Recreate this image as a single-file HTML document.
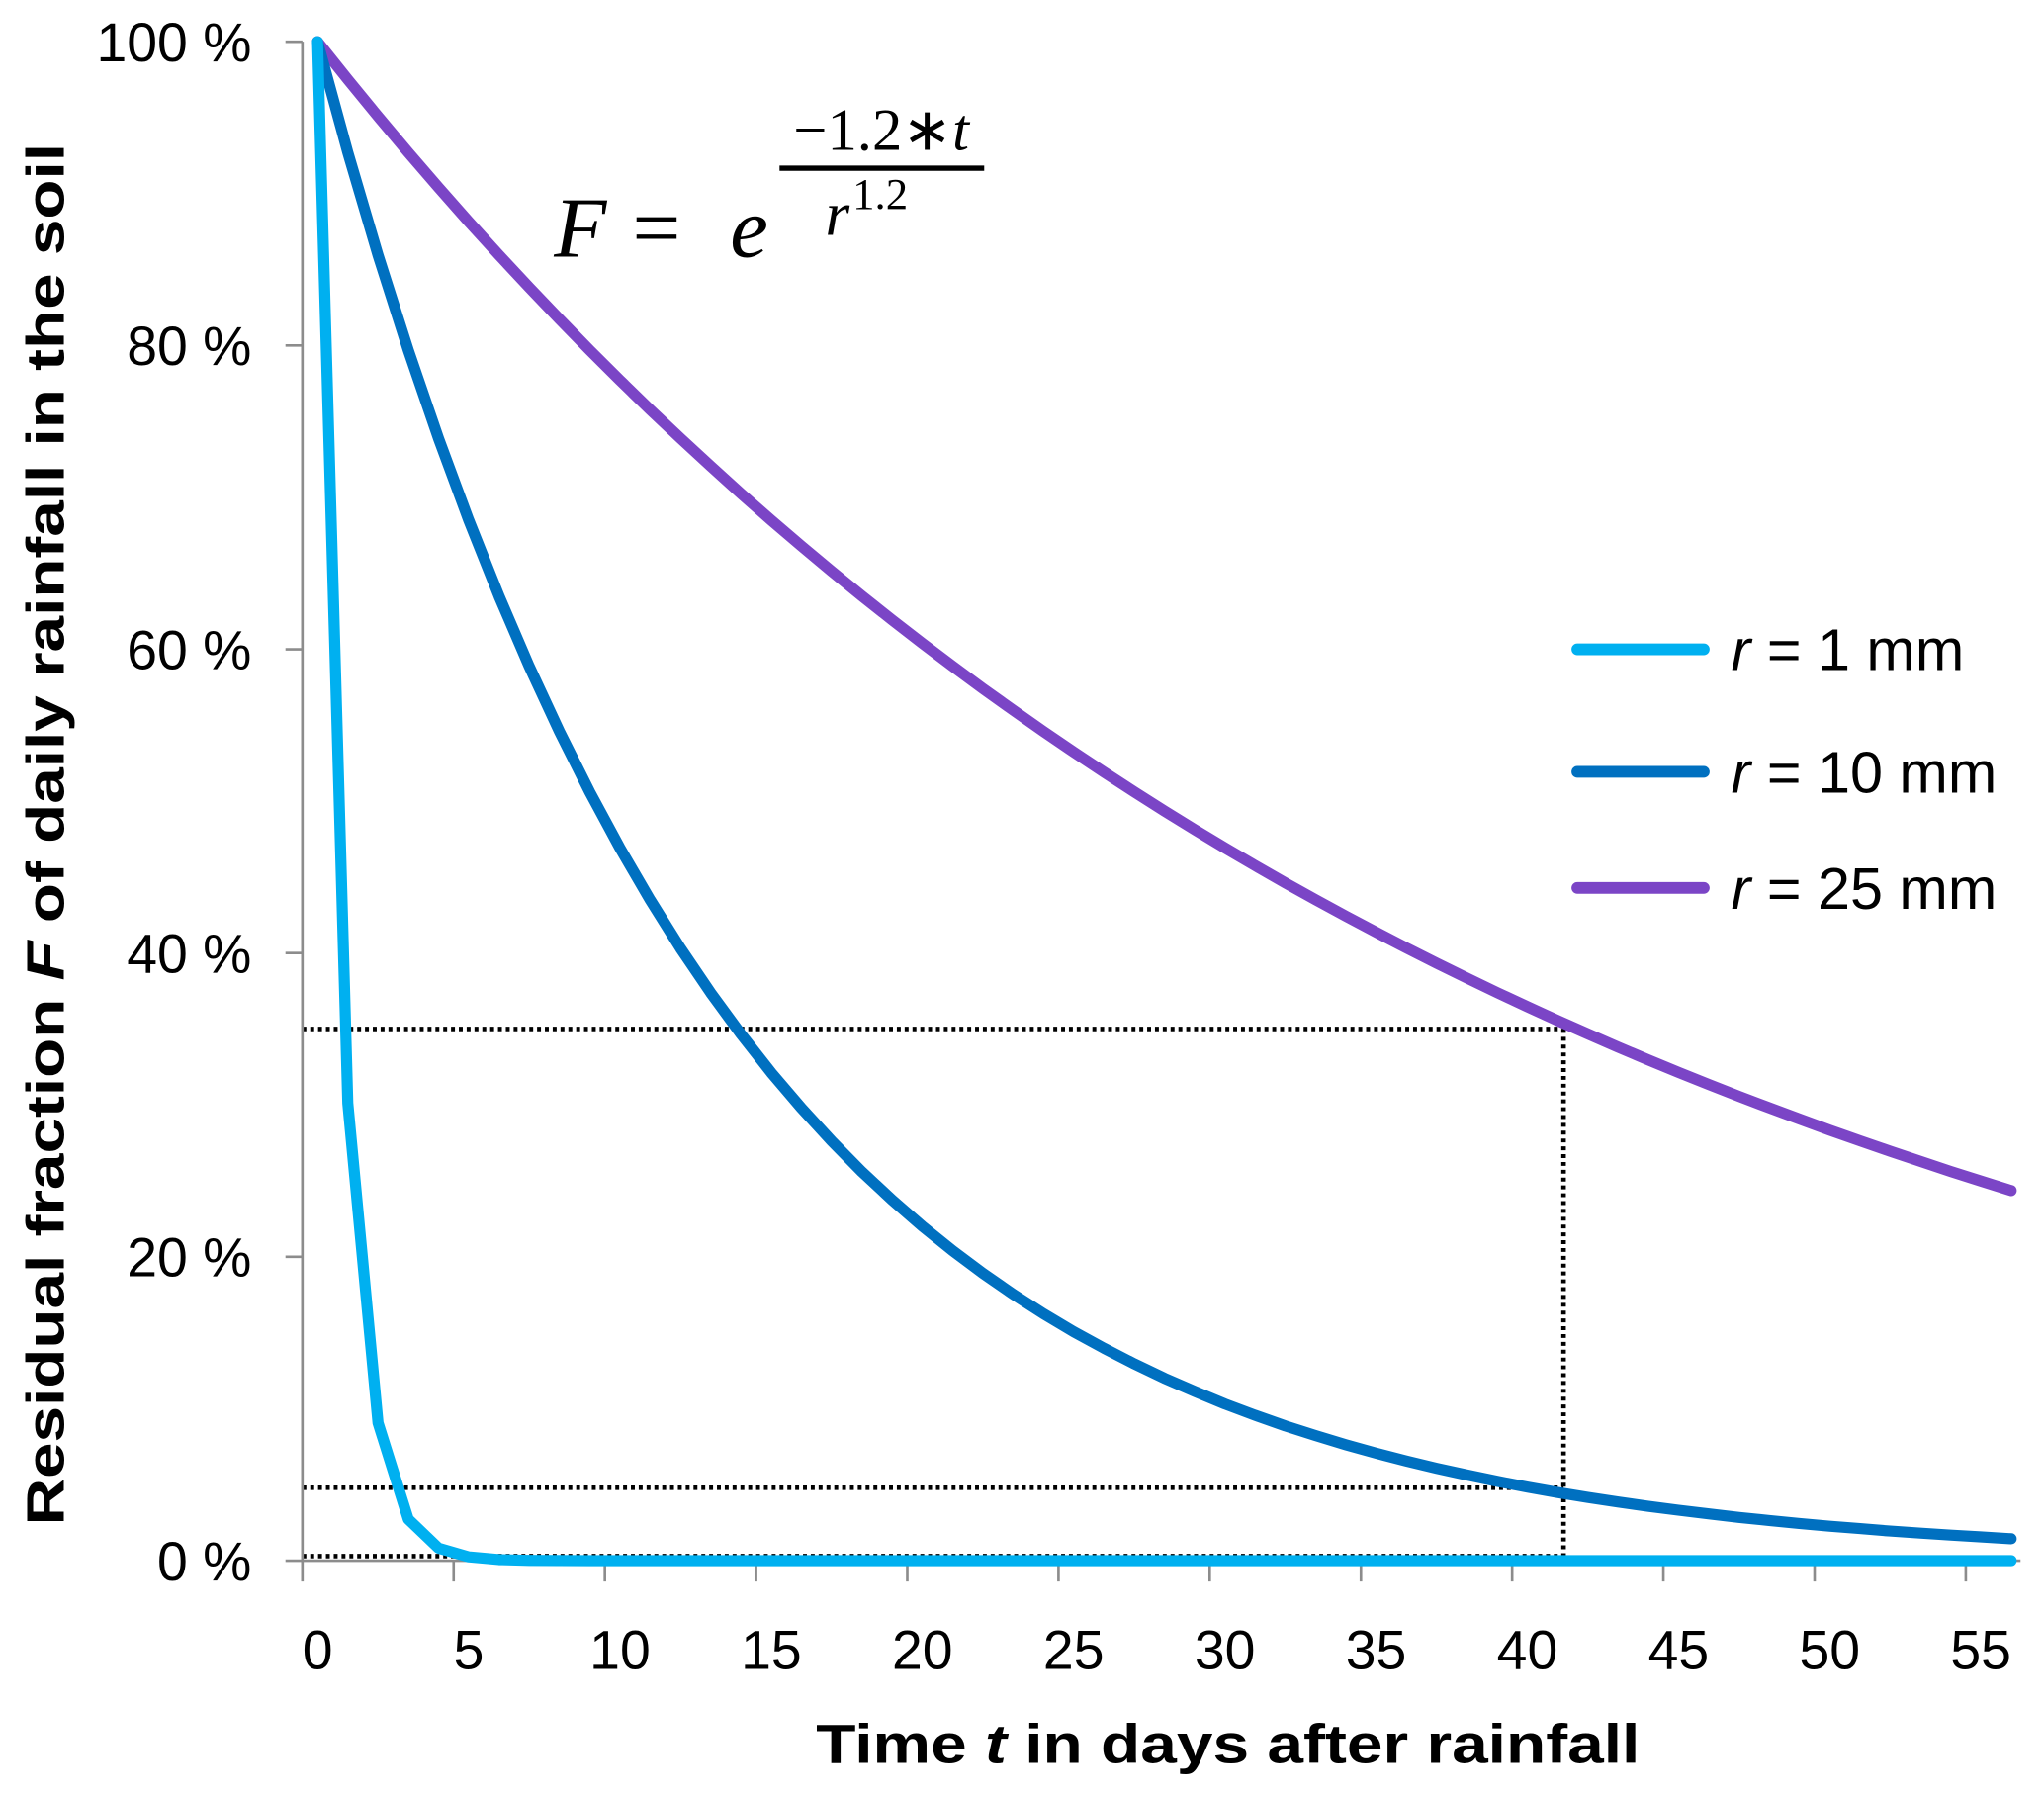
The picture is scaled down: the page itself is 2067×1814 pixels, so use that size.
<!DOCTYPE html>
<html><head><meta charset="utf-8"><style>
html,body{margin:0;padding:0;background:#fff;}
svg{display:block;}
text{font-family:"Liberation Sans",sans-serif;fill:#000;}
text.serif{font-family:"Liberation Serif",serif;}
</style></head><body>
<svg id="chart" width="2067" height="1814" viewBox="0 0 1568 1376" preserveAspectRatio="none" xmlns="http://www.w3.org/2000/svg">
<g id="grid"></g>
<text transform="translate(49,640) rotate(-90)" text-anchor="middle" font-size="41" font-weight="bold" textLength="1060" lengthAdjust="spacingAndGlyphs">Residual fraction <tspan font-style="italic">F</tspan> of daily rainfall in the soil</text>
<text x="942" y="1352" text-anchor="middle" font-size="42" font-weight="bold" textLength="632" lengthAdjust="spacingAndGlyphs">Time <tspan font-style="italic">t</tspan> in days after rainfall</text>
<g>
<text class="serif" x="425" y="197" font-size="66" font-style="italic">F</text>
<text class="serif" x="485" y="197" font-size="66">=</text>
<text class="serif" x="560" y="197" font-size="66" font-style="italic">e</text>
<text class="serif" x="676" y="115" font-size="46" text-anchor="middle">−1.2∗<tspan font-style="italic">t</tspan></text>
<line x1="598" y1="129" x2="755" y2="129" stroke="#000" stroke-width="4"/>
<text class="serif" x="633" y="180" font-size="48" font-style="italic">r</text>
<text class="serif" x="654" y="160" font-size="34">1.2</text>
</g>
<g id="legend"></g>
</svg>
<script>
const days = [];
for (let i = 0; i <= 56; i++) days.push(i);
const r1Values = [100,30.12,9.07,2.73,0.82,0.25,0.07,0.02,0.01,0,0,0,0,0,0,0,0,0,0,0,0,0,0,0,0,0,0,0,0,0,0,0,0,0,0,0,0,0,0,0,0,0,0,0,0,0,0,0,0,0,0,0,0,0,0,0,0];
const r10Values = [100,92.71,85.95,79.69,73.88,68.50,63.50,58.87,54.58,50.60,46.91,43.49,40.32,37.38,34.66,32.13,29.79,27.62,25.60,23.74,22.01,20.40,18.92,17.54,16.26,15.07,13.98,12.96,12.01,11.14,10.32,9.57,8.87,8.23,7.63,7.07,6.56,6.08,5.64,5.23,4.84,4.49,4.16,3.86,3.58,3.32,3.08,2.85,2.64,2.45,2.27,2.11,1.95,1.81,1.68,1.56,1.44];
const r25Values = [100,97.51,95.08,92.71,90.40,88.15,85.96,83.82,81.73,79.69,77.71,75.77,73.89,72.05,70.25,68.50,66.80,65.13,63.51,61.93,60.39,58.88,57.42,55.99,54.59,53.24,51.91,50.62,49.36,48.13,46.93,45.76,44.62,43.51,42.43,41.37,40.34,39.34,38.36,37.40,36.47,35.56,34.68,33.81,32.97,32.15,31.35,30.57,29.81,29.07,28.34,27.64,26.95,26.28,25.62,24.99,24.36];
const yTicks = [0,20,40,60,80,100];
const yTickLabels = ["0 %","20 %","40 %","60 %","80 %","100 %"];
const xTickLabels = [0,5,10,15,20,25,30,35,40,45,50,55];
const seriesNames = ["r = 1 mm","r = 10 mm","r = 25 mm"];
const refDay = 41.2;
const refLevels = [35, 4.8, 0.3];

const NS = "http://www.w3.org/2000/svg";
const svg = document.getElementById("chart");
const X0 = 232, XEND = 1550, DAYW = 23.2, Y0 = 1197, Y100 = 32;
const xScale = d => X0 + (d + 0.5) * DAYW;
const yScale = v => Y0 - (v / 100) * (Y0 - Y100);
function mk(tag, attrs) { const e = document.createElementNS(NS, tag); for (const k in attrs) e.setAttribute(k, attrs[k]); return e; }
const g = document.getElementById("grid");

refLevels.forEach((lv, i) => {
  const l = mk("line", {x1: X0, x2: xScale(refDay), y1: yScale(lv), y2: yScale(lv), stroke: "#000", "stroke-width": 3.5, "stroke-dasharray": "3 3"});
  
  
  g.appendChild(l);
});
const vl = mk("line", {x1: xScale(refDay), x2: xScale(refDay), y1: yScale(refLevels[0]), y2: Y0, stroke: "#000", "stroke-width": 3.5, "stroke-dasharray": "3 3"});


g.appendChild(vl);

const ya = mk("line", {x1: X0, x2: X0, y1: Y100, y2: Y0, stroke: "#8c8c8c", "stroke-width": 2});


g.appendChild(ya);
const xa = mk("line", {x1: X0, x2: XEND, y1: Y0, y2: Y0, stroke: "#8c8c8c", "stroke-width": 2});


g.appendChild(xa);
yTicks.forEach((v, i) => {
  const t = mk("line", {x1: 219, x2: X0, y1: yScale(v), y2: yScale(v), stroke: "#8c8c8c", "stroke-width": 2});
  
  
  g.appendChild(t);
  const tx = mk("text", {x: 193, y: yScale(v) + 15, "text-anchor": "end", "font-size": 42});
  tx.textContent = yTickLabels[i];
  
  
  g.appendChild(tx);
});
for (let k = 0; k <= 11; k++) {
  const xx = X0 + k * 5 * DAYW;
  const t = mk("line", {x1: xx, x2: xx, y1: Y0, y2: 1213, stroke: "#8c8c8c", "stroke-width": 2});
  
  
  g.appendChild(t);
}
xTickLabels.forEach(d => {
  const tx = mk("text", {x: xScale(d), y: 1280, "text-anchor": "middle", "font-size": 42});
  tx.textContent = d;
  
  
  g.appendChild(tx);
});

const series = [[r1Values, "#00b0f0", "series-r1"], [r10Values, "#0070c0", "series-r10"], [r25Values, "#7b45c6", "series-r25"]];
[series[2], series[1], series[0]].forEach(s => {
  const pts = days.map((d, i) => xScale(d).toFixed(1) + "," + yScale(s[0][i]).toFixed(1)).join(" ");
  const pl = mk("polyline", {points: pts, fill: "none", stroke: s[1], "stroke-width": 8.5, "stroke-linejoin": "round", "stroke-linecap": "round"});
  
  
  svg.appendChild(pl);
});

const lg = document.getElementById("legend");
const legY = [498, 592, 681];
series.forEach((s, i) => {
  const l = mk("line", {x1: 1210, x2: 1307, y1: legY[i], y2: legY[i], stroke: s[1], "stroke-width": 9, "stroke-linecap": "round"});
  
  
  lg.appendChild(l);
  const tx = mk("text", {x: 1328, y: legY[i] + 16, "font-size": 45});
  const parts = seriesNames[i].split(" = ");
  const it = mk("tspan", {"font-style": "italic"});
  it.textContent = parts[0];
  tx.appendChild(it);
  tx.appendChild(document.createTextNode(" = " + parts[1]));
  
  
  lg.appendChild(tx);
});
</script>
</body></html>
